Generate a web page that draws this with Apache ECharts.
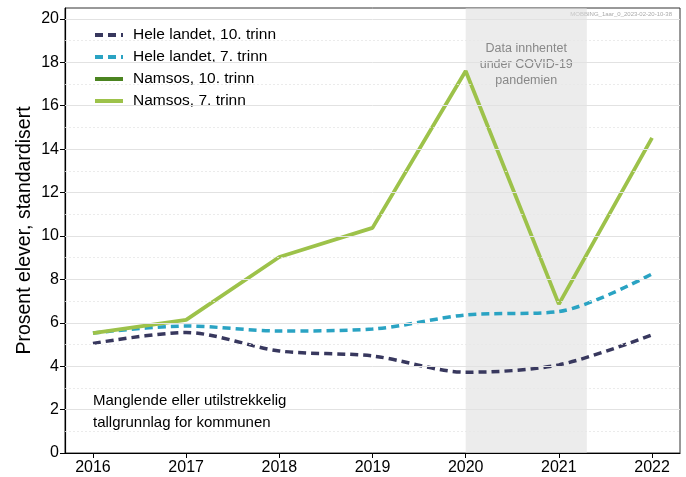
<!DOCTYPE html>
<html><head><meta charset="utf-8">
<script src="https://cdn.jsdelivr.net/npm/echarts@6/dist/echarts.min.js"></script>
<style>html,body{margin:0;padding:0;background:#fff}#c{width:686px;height:477px}</style>
</head><body><div id="c"></div>
<script>
const years = [2016, 2017, 2018, 2019, 2020, 2021, 2022];
const heleLandet10 = [5.05, 5.55, 4.7, 4.47, 3.72, 4.06, 5.44];
const heleLandet7 = [5.53, 5.85, 5.62, 5.71, 6.36, 6.52, 8.25];
const namsos10 = [];
const namsos7 = [5.52, 6.13, 9.03, 10.37, 17.6, 6.86, 14.52];
const yTicks = [0, 2, 4, 6, 8, 10, 12, 14, 16, 18, 20];
const yMinor = [1, 3, 5, 7, 9, 11, 13, 15, 17, 19];
const covidStart = 2020, covidEnd = 2021.3;

const pair = arr => arr.map((v, i) => [years[i], v]);
const F = 'Liberation Sans, Arial, sans-serif';
const chart = echarts.init(document.getElementById('c'), null, {renderer: 'canvas'});
chart.setOption({
  animation: false,
  grid: {left: 65, right: 6, top: 8, bottom: 24, show: true, borderColor: '#333', borderWidth: 1, backgroundColor: 'transparent'},
  xAxis: {
    type: 'value', min: 2015.7, max: 2022.3,
    axisLine: {show: true, onZero: false, lineStyle: {color: '#000', width: 1.2}},
    axisTick: {show: true, customValues: years, length: 5, lineStyle: {color: '#000'}},
    axisLabel: {customValues: years, formatter: v => String(v), color: '#000', fontSize: 16, fontFamily: F, margin: 7},
    splitLine: {show: false}
  },
  yAxis: {
    type: 'value', min: 0, max: 20.5,
    name: 'Prosent elever, standardisert', nameLocation: 'middle', nameGap: 30, nameRotate: 90,
    nameMoveOverlap: false,
    nameTextStyle: {color: '#000', fontSize: 19.5, fontFamily: F},
    axisLine: {show: true, lineStyle: {color: '#000', width: 1.2}},
    axisTick: {show: true, customValues: yTicks, length: 5, lineStyle: {color: '#000'}},
    axisLabel: {customValues: yTicks, color: '#000', fontSize: 16, fontFamily: F, margin: 6},
    splitLine: {show: false}
  },
  legend: {
    left: 88, top: 18, orient: 'vertical', backgroundColor: '#fff',
    padding: [9, 6, 9, 5], itemGap: 6, itemWidth: 28, itemHeight: 15,
    itemStyle: {opacity: 0},
    lineStyle: {width: 4},
    textStyle: {color: '#000', fontSize: 15.5, fontFamily: F, padding: [0, 0, 0, 5]},
    data: ['Hele landet, 10. trinn', 'Hele landet, 7. trinn', 'Namsos, 10. trinn', 'Namsos, 7. trinn']
  },
  graphic: [
    {type: 'text', left: 93, top: 390, style: {text: 'Manglende eller utilstrekkelig\ntallgrunnlag for kommunen', fill: '#000', fontSize: 15, fontFamily: F, lineHeight: 22}},
    {type: 'text', right: 14, top: 11, style: {text: 'MOBBING_1aar_0_2023-02-20-10-38', fill: '#aaa', fontSize: 6, fontFamily: F}}
  ],
  series: [
    {
      name: 'grid', type: 'line', data: [], silent: true, z: 0,
      markLine: {silent: true, symbol: 'none', label: {show: false}, animation: false,
        lineStyle: {color: '#e2e2e2', type: 'solid', width: 1},
        data: yTicks.slice(1).map(v => ({yAxis: v}))},
    },
    {
      name: 'grid2', type: 'line', data: [], silent: true, z: 0,
      markLine: {silent: true, symbol: 'none', label: {show: false}, animation: false,
        lineStyle: {color: '#e6e6e6', type: [2, 2], width: 0.8},
        data: yMinor.map(v => ({yAxis: v}))},
      markArea: {silent: true, itemStyle: {color: 'rgba(220,220,220,0.55)'},
        label: {show: true, position: 'insideTop', distance: 33, color: '#888', fontSize: 12.5, fontFamily: F, lineHeight: 16,
          formatter: 'Data innhentet\nunder COVID-19\npandemien'},
        data: [[{xAxis: covidStart}, {xAxis: covidEnd}]]}
    },
    {name: 'Hele landet, 10. trinn', type: 'line', data: pair(heleLandet10), showSymbol: false, symbol: 'none', smooth: 0.3,
      color: '#38385e', lineStyle: {color: '#38385e', width: 3.5, type: [8, 5]}, z: 3},
    {name: 'Hele landet, 7. trinn', type: 'line', data: pair(heleLandet7), showSymbol: false, symbol: 'none', smooth: 0.3,
      color: '#2aa3c3', lineStyle: {color: '#2aa3c3', width: 3.5, type: [8, 5]}, z: 3},
    {name: 'Namsos, 10. trinn', type: 'line', data: namsos10, showSymbol: false, symbol: 'none',
      color: '#4b8420', lineStyle: {color: '#4b8420', width: 3.5}, z: 4},
    {name: 'Namsos, 7. trinn', type: 'line', data: pair(namsos7), showSymbol: false, symbol: 'none',
      color: '#9dc24a', lineStyle: {color: '#9dc24a', width: 3.8}, z: 4}
  ]
});
</script></body></html>
